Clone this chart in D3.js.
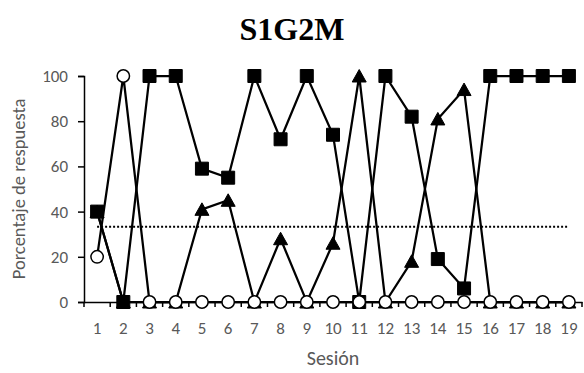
<!DOCTYPE html>
<html>
<head>
<meta charset="utf-8">
<script src="https://cdn.jsdelivr.net/npm/d3@7"></script>
<style>
  body { margin: 0; background: #fff; }
  svg text { font-family: Carlito, Calibri, Lato, sans-serif; }
</style>
</head>
<body>
<div id="chart"></div>
<script>
// sessions on the x axis
const sessions = [1,2,3,4,5,6,7,8,9,10,11,12,13,14,15,16,17,18,19];
// percentage of responses per session, one array per series
const squareVals   = [40,0,100,100,59,55,100,72,100,74,0,100,82,19,6,100,100,100,100];
const triangleVals = [40,0,0,0,41,45,0,28,0,26,100,0,18,81,94,0,0,0,0];
const circleVals   = [20,100,0,0,0,0,0,0,0,0,0,0,0,0,0,0,0,0,0];
const chanceLevel = 33.3;
const yTicks = [0,20,40,60,80,100];

const width = 584, height = 373;
const margin = {top: 76, right: 2, bottom: 71, left: 84};

const svg = d3.select('#chart').append('svg')
    .attr('width', width)
    .attr('height', height);

const x = d3.scaleBand()
    .domain(sessions)
    .range([margin.left, width - margin.right])
    .paddingInner(0).paddingOuter(0);

const y = d3.scaleLinear()
    .domain([0, 100])
    .range([height - margin.bottom, margin.top]);

const cx = d => x(d) + x.bandwidth() / 2;

// title
svg.append('text')
    .attr('x', 292)
    .attr('y', 40)
    .attr('text-anchor', 'middle')
    .style('font-family', '"Liberation Serif", "Times New Roman", serif')
    .style('font-weight', 'bold')
    .style('font-size', '32px')
    .text('S1G2M');

// y axis
const yAxis = svg.append('g')
    .attr('transform', `translate(${margin.left},0)`)
    .call(d3.axisLeft(y).tickValues(yTicks).tickSize(6).tickPadding(10));
yAxis.select('.domain').attr('stroke', '#000').attr('stroke-width', 1.5);
yAxis.selectAll('.tick line').attr('stroke', '#000').attr('stroke-width', 1.5);
yAxis.selectAll('.tick text').attr('fill', '#595959').style('font-size', '17px')
    .style('font-family', 'Carlito, Calibri, Lato, sans-serif');

// x axis (labels at category centres, ticks between categories)
const xAxis = svg.append('g')
    .attr('transform', `translate(0,${y(0)})`)
    .call(d3.axisBottom(x).tickSize(0).tickPadding(20));
xAxis.select('.domain').attr('stroke', '#000').attr('stroke-width', 1.5);
xAxis.selectAll('.tick text').attr('fill', '#595959').style('font-size', '17px')
    .style('font-family', 'Carlito, Calibri, Lato, sans-serif');

xAxis.selectAll('line.bound')
    .data(sessions.concat([null]))
    .enter().append('line')
    .attr('class', 'bound')
    .attr('x1', (d, i) => i < sessions.length ? x(d) : x.range()[1])
    .attr('x2', (d, i) => i < sessions.length ? x(d) : x.range()[1])
    .attr('y1', 0)
    .attr('y2', 5)
    .attr('stroke', '#000')
    .attr('stroke-width', 1.5);

// axis titles
svg.append('text')
    .attr('transform', `translate(18,${(y(0) + y(100)) / 2}) rotate(-90)`)
    .attr('text-anchor', 'middle')
    .attr('dominant-baseline', 'central')
    .attr('fill', '#595959')
    .style('font-size', '18.5px')
    .text('Porcentaje de respuesta');

svg.append('text')
    .attr('x', (x.range()[0] + x.range()[1]) / 2)
    .attr('y', 365)
    .attr('text-anchor', 'middle')
    .attr('fill', '#595959')
    .style('font-size', '20px')
    .text('Sesión');

// chance line
svg.append('line')
    .attr('x1', cx(sessions[0]))
    .attr('x2', cx(sessions[sessions.length - 1]))
    .attr('y1', y(chanceLevel))
    .attr('y2', y(chanceLevel))
    .attr('stroke', '#000')
    .attr('stroke-width', 2)
    .attr('stroke-dasharray', '2,2');

const line = d3.line()
    .x((d, i) => cx(sessions[i]))
    .y(d => y(d));

function drawSeries(vals, marker) {
  const g = svg.append('g');
  g.append('path')
      .datum(vals)
      .attr('d', line)
      .attr('fill', 'none')
      .attr('stroke', '#000')
      .attr('stroke-width', 2.25);
  g.selectAll('path.mk')
      .data(vals)
      .enter().append('path')
      .attr('class', 'mk')
      .attr('transform', (d, i) => `translate(${cx(sessions[i])},${y(d)})`)
      .attr('d', marker.d)
      .attr('fill', marker.fill)
      .attr('stroke', '#000')
      .attr('stroke-width', marker.sw);
}

const tri = 'M0,-6.5L7,6L-7,6Z';
drawSeries(triangleVals, {d: tri, fill: '#000', sw: 1});
drawSeries(squareVals, {d: d3.symbol().type(d3.symbolSquare).size(169)(), fill: '#000', sw: 1});
drawSeries(circleVals, {d: d3.symbol().type(d3.symbolCircle).size(Math.PI * 6.2 * 6.2)(), fill: '#fff', sw: 1.5});
</script>
</body>
</html>
